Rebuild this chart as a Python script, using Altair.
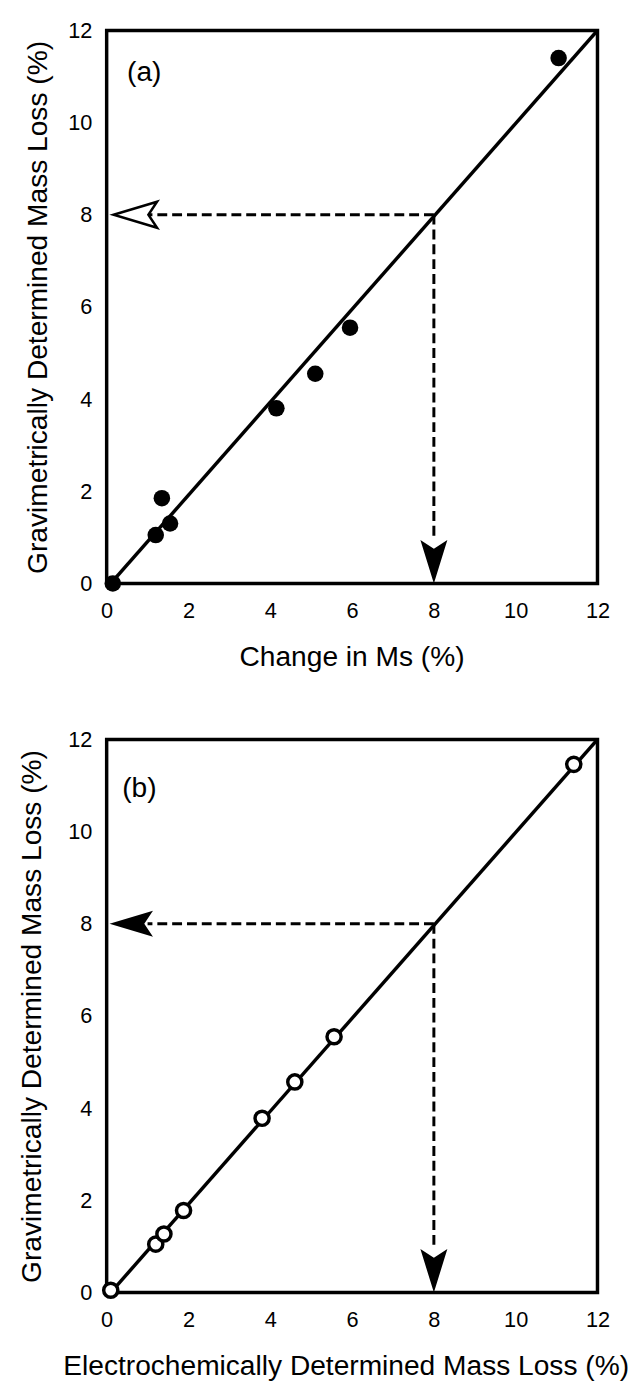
import altair as alt
import pandas as pd

FONT = "Liberation Sans"

# ---------------- data ----------------
ticks = [0, 2, 4, 6, 8, 10, 12]

# Panel (a): Change in Ms vs gravimetric mass loss (filled circles)
a_x = [0.15, 1.2, 1.35, 1.55, 4.15, 5.1, 5.95, 11.05]
a_y = [0.0, 1.05, 1.85, 1.3, 3.8, 4.55, 5.55, 11.4]
a_fit_x = [0.1, 12.0]
a_fit_y = [0.0, 12.0]

# Panel (b): electrochemical vs gravimetric mass loss (open circles)
b_x = [0.1, 1.2, 1.4, 1.88, 3.8, 4.6, 5.56, 11.42]
b_y = [0.05, 1.05, 1.27, 1.78, 3.78, 4.57, 5.55, 11.46]
b_fit_x = [0.1, 12.0]
b_fit_y = [0.0, 12.0]

# dashed read-off guides (value 8) : [start, end]
guide_level = 8.0
a_h_guide_x = [8.0, 1.0]
a_v_guide_y = [8.0, 1.0]
a_left_tip_x = 0.17
b_h_guide_x = [8.0, 1.0]
b_v_guide_y = [8.0, 1.0]
b_left_tip_x = 0.07
down_tip_y = 0.0

LEFT_ARROW = "M0,0L2,-0.6L1.6,0L2,0.6Z"
DOWN_ARROW = "M0,0L-0.62,-2L0,-1.6L0.62,-2Z"


def panel(px, py, fx, fy, hx, vy, left_tip, label, xtitle, filled, outline_arrow,
          y_title_x, x_title_x):
    sx = alt.Scale(domain=[0, 12], nice=False, zero=False)
    sy = alt.Scale(domain=[0, 12], nice=False, zero=False)
    xaxis = alt.Axis(title=xtitle, values=ticks, domain=False, ticks=False, grid=False,
                     labelFontSize=22, labelPadding=17, labelFont=FONT, labelColor="black",
                     labelFlush=False,
                     titleFont=FONT, titleFontSize=28.5, titleFontWeight="normal",
                     titleColor="black", titleX=x_title_x, titleY=74,
                     titleBaseline="middle", titleAlign="center")
    yaxis = alt.Axis(title="Gravimetrically Determined Mass Loss (%)", values=ticks,
                     domain=False, ticks=False, grid=False,
                     labelFontSize=22, labelPadding=15, labelFont=FONT, labelColor="black",
                     titleFont=FONT, titleFontSize=28.5, titleFontWeight="normal",
                     titleColor="black", titleX=y_title_x, titleY=280,
                     titleBaseline="middle", titleAlign="center")

    fit_df = pd.DataFrame({"x": fx, "y": fy})
    pts_df = pd.DataFrame({"x": px, "y": py})

    fit = alt.Chart(fit_df).mark_line(color="black", strokeWidth=3.5, clip=True).encode(
        x=alt.X("x:Q", scale=sx, axis=xaxis),
        y=alt.Y("y:Q", scale=sy, axis=yaxis),
    )
    hrule = alt.Chart().mark_rule(color="black", strokeWidth=3, strokeDash=[10, 5]).encode(
        x=alt.datum(hx[0]), x2=alt.datum(hx[1]), y=alt.datum(guide_level)
    )
    vrule = alt.Chart().mark_rule(color="black", strokeWidth=3, strokeDash=[10, 5]).encode(
        x=alt.datum(guide_level), y=alt.datum(vy[0]), y2=alt.datum(vy[1])
    )
    if outline_arrow:
        larrow = alt.Chart().mark_point(shape=LEFT_ARROW, size=1936, filled=True,
                                        fill="white", stroke="black", strokeWidth=2.5,
                                        opacity=1)
    else:
        larrow = alt.Chart().mark_point(shape=LEFT_ARROW, size=1936, filled=True,
                                        color="black", opacity=1)
    larrow = larrow.encode(x=alt.datum(left_tip), y=alt.datum(guide_level))
    darrow = alt.Chart().mark_point(shape=DOWN_ARROW, size=1936, filled=True,
                                    color="black", opacity=1).encode(
        x=alt.datum(guide_level), y=alt.datum(down_tip_y)
    )
    if filled:
        pts = alt.Chart(pts_df).mark_point(filled=True, color="black", size=280, opacity=1)
    else:
        pts = alt.Chart(pts_df).mark_point(filled=True, fill="white", stroke="black",
                                           strokeWidth=3.5, size=205, opacity=1)
    pts = pts.encode(x="x:Q", y="y:Q")
    lab = alt.Chart().mark_text(font=FONT, fontSize=28.5, color="black",
                                align="center", baseline="middle").encode(
        x=alt.datum(label[1]), y=alt.datum(label[2]), text=alt.value(label[0])
    )
    return alt.layer(fit, hrule, vrule, larrow, darrow, pts, lab).properties(
        width=497, height=560
    )


pa = panel(a_x, a_y, a_fit_x, a_fit_y, a_h_guide_x, a_v_guide_y, a_left_tip_x,
           ("(a)", 0.92, 11.1), "Change in Ms (%)", True, True, -70, 248)
pb = panel(b_x, b_y, b_fit_x, b_fit_y, b_h_guide_x, b_v_guide_y, b_left_tip_x,
           ("(b)", 0.8, 10.94), "Electrochemically Determined Mass Loss (%)", False, False,
           -76, 242)

chart = alt.vconcat(pa, pb, spacing=54).properties(
    padding={"left": 16, "top": 9, "right": 5, "bottom": 5},
    background="white",
).configure_view(stroke="black", strokeWidth=3.5)

chart.save("out.html", embed_options={"renderer": "svg", "actions": False})
